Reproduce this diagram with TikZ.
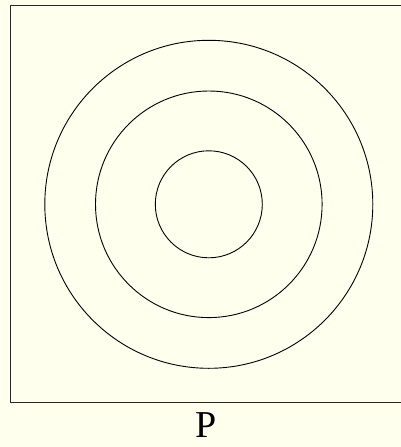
\documentclass[tikz,border=0pt]{standalone}
\usepackage{fontspec}
\setmainfont{Liberation Serif}
\definecolor{bgcream}{HTML}{FFFFEE}
\begin{document}
\begin{tikzpicture}[x=1pt,y=-1pt,
  ring/.style={draw=black,line width=0.9pt},
  frameline/.style={draw=black!85,line width=1pt}]
\fill[bgcream] (0,0) rectangle (401,447);
\useasboundingbox (0,0) rectangle (401,447);
\coordinate (c) at (208.8,204.3);
\draw[frameline] (402,5.5) -- (10,5.5) -- (10,402) -- (402,402);
\draw[ring] (c) circle[radius=53.5];
\draw[ring] (c) circle[radius=113.3];
\draw[ring] (c) circle[radius=164];
\node[font=\fontsize{38}{42}\selectfont,inner sep=0pt,anchor=base] (p) at (206,437) {P};
\end{tikzpicture}
\end{document}
